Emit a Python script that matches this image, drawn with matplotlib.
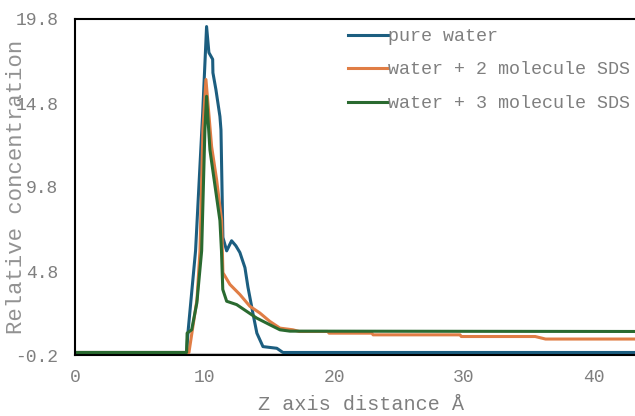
import matplotlib
matplotlib.use('Agg')
import matplotlib.pyplot as plt

z_pure = [0.0, 8.61, 8.71, 9.3, 9.85, 10.15, 10.33, 10.62, 10.64, 10.87, 11.18, 11.26, 11.41,
          11.70, 12.08, 12.41, 12.72, 13.11, 13.34, 13.72, 14.03, 14.50, 15.57, 16.04, 43.5]
c_pure = [-0.05, -0.05, 1.1, 6.0, 14.2, 19.35, 17.8, 17.4, 16.6, 15.6, 14.0, 13.2, 6.8,
          6.0, 6.6, 6.3, 5.9, 5.0, 3.85, 2.3, 1.1, 0.3, 0.2, -0.05, -0.05]

z_sds2 = [0.0, 8.79, 9.41, 9.64, 9.87, 10.10, 10.54, 10.93, 11.31, 11.41, 11.95, 12.72, 13.49,
          14.26, 15.03, 15.81, 16.81, 17.3, 19.5, 19.6, 22.9, 23.0, 29.7, 29.8, 35.5, 36.3, 43.5]
c_sds2 = [-0.05, -0.05, 3.1, 6.0, 13.2, 16.2, 12.2, 10.2, 7.8, 4.7, 4.0, 3.4, 2.7,
          2.3, 1.8, 1.4, 1.3, 1.2, 1.2, 1.1, 1.1, 1.0, 1.0, 0.9, 0.9, 0.75, 0.75]

z_sds3 = [0.0, 8.61, 8.65, 9.0, 9.4, 9.77, 10.02, 10.15, 10.41, 11.18, 11.3, 11.4, 11.70,
          12.47, 13.24, 14.01, 15.03, 15.81, 16.58, 43.5]
c_sds3 = [-0.05, -0.05, 1.1, 1.3, 2.9, 6.0, 13.2, 15.2, 12.0, 7.8, 6.0, 3.7, 3.0,
          2.8, 2.4, 2.0, 1.6, 1.3, 1.22, 1.2]

labels = ['pure water', 'water + 2 molecule SDS', 'water + 3 molecule SDS']
colors = ['#1c5e80', '#e07d45', '#2a6a30']
y_ticks = [-0.2, 4.8, 9.8, 14.8, 19.8]
x_ticks = [0, 10, 20, 30, 40]

plt.rcParams['font.family'] = ['Liberation Mono', 'DejaVu Sans Mono']
grey = '#7f7f7f'

fig = plt.figure(figsize=(6.35, 4.16), dpi=100)
ax = fig.add_axes([75 / 635, 1 - 355 / 416, 1 - 75 / 635, (355 - 19) / 416])

ax.axhline(-0.14, color='#c8c8c8', lw=1.5, zorder=1)
for z, c, lab, col in zip([z_pure, z_sds2, z_sds3], [c_pure, c_sds2, c_sds3], labels, colors):
    ax.plot(z, c, color=col, lw=2.2, label=lab, zorder=2)

ax.set_xlim(0, 43.2)
ax.set_ylim(-0.2, 19.8)
ax.set_xticks(x_ticks)
ax.set_yticks(y_ticks)
ax.set_yticklabels([f'{v:.1f}' for v in y_ticks])
ax.tick_params(length=0, labelsize=13, labelcolor=grey)
ax.tick_params(axis='y', pad=12)
ax.tick_params(axis='x', pad=10)

for side in ['left', 'top', 'bottom']:
    ax.spines[side].set_color('black')
    ax.spines[side].set_linewidth(1.5)
ax.spines['right'].set_visible(False)

ax.set_xlabel('Z axis distance Å', fontsize=14.5, color=grey)
ax.xaxis.set_label_coords(0.511, -0.118)
ax.set_ylabel('Relative concentration', fontsize=16, color=grey, alpha=0.85)
ax.yaxis.set_label_coords(-0.086, 0.5)

leg = ax.legend(loc='upper left', bbox_to_anchor=(348 / 635, 1 - 28 / 416),
                bbox_transform=fig.transFigure, frameon=False, fontsize=13.2,
                handlelength=2.2, handletextpad=0.0, labelspacing=0.9,
                borderpad=0, borderaxespad=0)
for t in leg.get_texts():
    t.set_color(grey)

fig.savefig('out.png', dpi=100)
